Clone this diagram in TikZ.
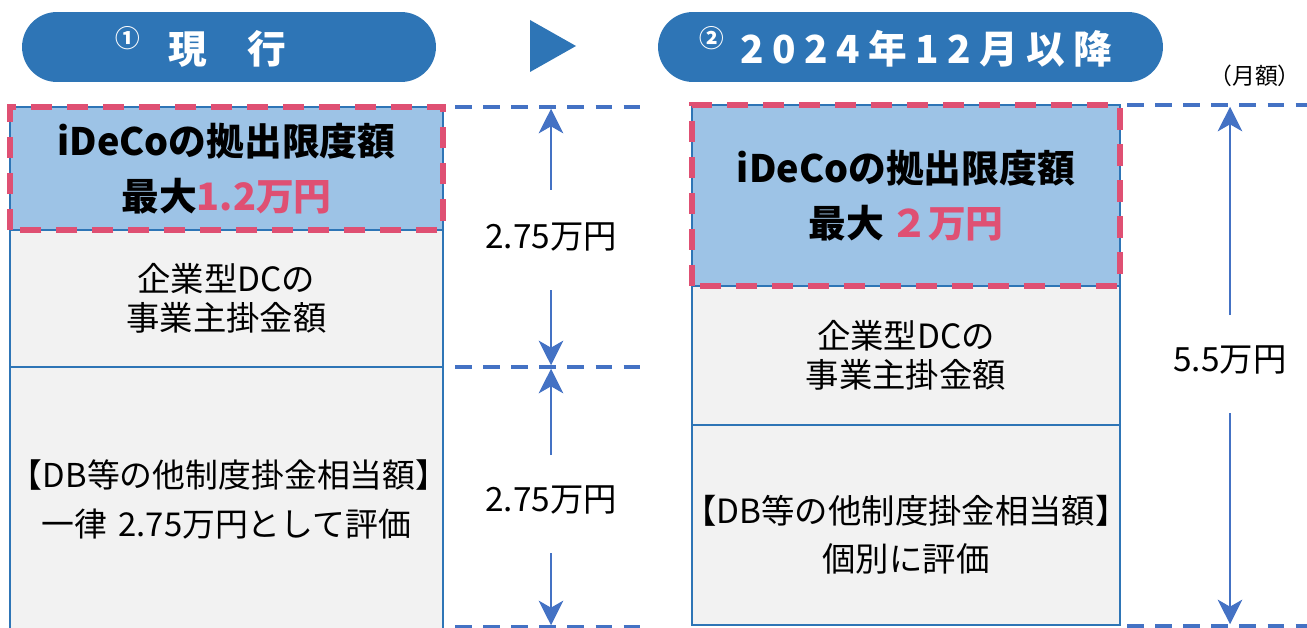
\documentclass[tikz,border=0pt]{standalone}
\usepackage{fontspec}
\setmainfont{Noto Sans CJK JP}
\newfontfamily\spacedfont[LetterSpace=22]{Noto Sans CJK JP}
\usetikzlibrary{positioning,arrows.meta}

\definecolor{pillblue}{HTML}{2E75B6}
\definecolor{idecoblue}{HTML}{9DC3E6}
\definecolor{boxgray}{HTML}{F2F2F2}
\definecolor{dimblue}{HTML}{4472C4}
\definecolor{limitpink}{HTML}{DF5073}

\newcommand{\circnum}[1]{\raisebox{0.4em}{\fontsize{14}{14}\selectfont #1}}

\tikzset{
    pill/.style={fill=pillblue, rounded corners=0.7cm, minimum height=1.4cm, inner sep=0pt},
    headtext/.style={text=white, inner sep=0pt, font=\bfseries\fontsize{22}{26}\selectfont},
    idecobox/.style={fill=idecoblue, draw=pillblue, line width=1pt, inner sep=0pt, outer sep=0pt,
        align=center, font=\bfseries\fontsize{21.5}{31}\selectfont},
    graybox/.style={fill=boxgray, draw=pillblue, line width=1pt, inner sep=0pt, outer sep=0pt,
        align=center, font=\fontsize{19}{22}\selectfont},
    bodytext/.style={inner sep=0pt, align=center, font=\fontsize{19}{22}\selectfont},
    pinkline/.style={draw=limitpink, line width=3.2pt, dash pattern=on 12pt off 8.5pt},
    guide/.style={dimblue, line width=2pt, dash pattern=on 9.5pt off 6.5pt},
    dimarrow/.style={dimblue, line width=1.2pt, shorten >=1pt, -{Stealth[length=14pt, width=14pt, inset=4pt]}},
    amount/.style={inner sep=0pt, font=\fontsize{19}{22}\selectfont}
}

\begin{document}
\lineskiplimit=-20pt\relax
\begin{tikzpicture}[x=0.02cm, y=-0.02cm]
        \useasboundingbox (0,0) rectangle (1307,628);

        % headings
        \node[pill, minimum width=8.28cm] (now) at (229,47) {};
        \node[headtext, anchor=west] (nowtext) at (115,47) {\circnum{①}\hspace{16pt}現\hspace{23pt}行};
        \fill[pillblue] (530,20) -- (576,46) -- (530,72) -- cycle;
        \node[pill, minimum width=10.1cm] (after) at (910.5,47) {};
        \node[headtext] (aftertext) at (906,47) {\circnum{②}\hspace{9pt}{\spacedfont\bfseries 2024年12月以降}};
        \node[font=\fontsize{13}{15}\selectfont] (unit) at (1255,76) {（月額）};

        % current
        \node[idecobox, text width=8.66cm, minimum height=2.46cm, anchor=north west] (ideco1) at (10,107)
            {iDeCoの拠出限度額\\最大{\color{limitpink}1.2万円}};
        \node[graybox, text width=8.66cm, minimum height=2.74cm, below=0pt of ideco1] (dc1)
            {企業型DCの\\事業主掛金額};
        \node[graybox, text width=8.66cm, minimum height=5.3cm, below=0pt of dc1] (db1)
            {\fontsize{18.7}{22}\selectfont【DB等の他制度掛金相当額】\\[6pt]一律 2.75万円として評価};
        \draw[pinkline] (ideco1.south west) rectangle (ideco1.north east);

        % from 2024
        \node[idecobox, text width=8.56cm, minimum height=3.62cm, anchor=north west] (ideco2) at (692,105)
            {iDeCoの拠出限度額\\最大\,{\color{limitpink}２万円}};
        \node[graybox, text width=8.56cm, minimum height=2.78cm, below=0pt of ideco2] (dc2)
            {企業型DCの\\事業主掛金額};
        \node[graybox, text width=8.56cm, minimum height=4cm, below=0pt of dc2] (db2) {};
        \node[bodytext] (db2text) at ([yshift=-0.2cm]db2.center)
            {【DB等の他制度掛金相当額】\\[5pt]個別に評価};
        \draw[pinkline] (ideco2.south west) rectangle (ideco2.north east);

        % levels
        \coordinate (l0) at (455,107);
        \coordinate (l1) at (455,367);
        \coordinate (l2) at (455,627);
        \coordinate (r0) at (1127,105);
        \coordinate (r1) at (1127,626);
        \foreach \c in {l0,l1,l2}
            \draw[guide] (\c) -- ++(185,0);
        \foreach \c in {r0,r1}
            \draw[guide] (\c) -- ++(180,0);

        % amounts
        \node[amount] (gap1) at (551,237) {2.75万円};
        \node[amount] (gap2) at (551,500) {2.75万円};
        \node[amount] (total) at (1230,360) {5.5万円};
        \draw[dimarrow] (gap1) ++(0,-47) -- (gap1 |- l0);
        \draw[dimarrow] (gap1) ++(0,53) -- (gap1 |- l1);
        \draw[dimarrow] (gap2) ++(0,-45) -- (gap2 |- l1);
        \draw[dimarrow] (gap2) ++(0,53) -- (gap2 |- l2);
        \draw[dimarrow] (total) ++(0,-45) -- (total |- r0);
        \draw[dimarrow] (total) ++(0,53) -- (total |- r1);

    \end{tikzpicture}
\end{document}
